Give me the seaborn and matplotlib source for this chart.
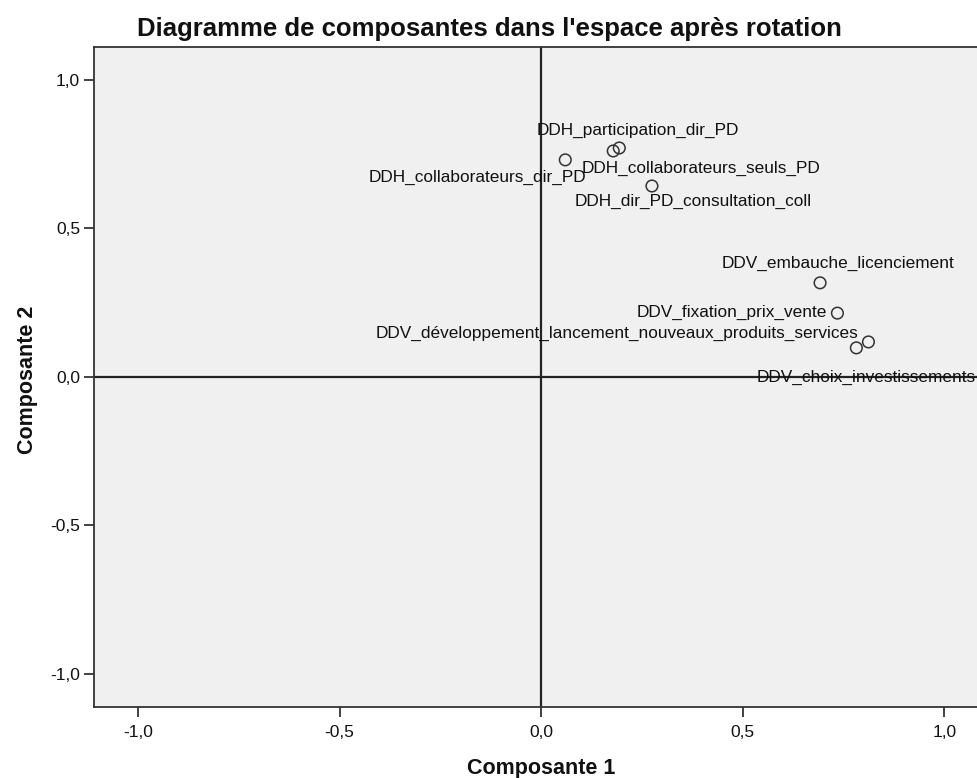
import numpy as np
import pandas as pd
import matplotlib
matplotlib.use("Agg")
import matplotlib.pyplot as plt
import seaborn as sns

# component loadings
variables = ["DDH_participation_dir_PD", "DDH_collaborateurs_seuls_PD",
             "DDH_collaborateurs_dir_PD", "DDH_dir_PD_consultation_coll",
             "DDV_embauche_licenciement", "DDV_fixation_prix_vente",
             "DDV_développement_lancement_nouveaux_produits_services",
             "DDV_choix_investissements"]
comp1 = [0.194, 0.179, 0.060, 0.275, 0.692, 0.735, 0.812, 0.782]
comp2 = [0.771, 0.761, 0.731, 0.643, 0.317, 0.215, 0.118, 0.098]
ticks = [-1.0, -0.5, 0.0, 0.5, 1.0]
tick_labels = ["-1,0", "-0,5", "0,0", "0,5", "1,0"]

# where each label sits relative to its point (pixels)
label_offsets = [(19, 18), (88, -17), (-88, -18), (41, -15),
                 (18, 19), (-106, 1), (-251, 9), (10, -30)]

df = pd.DataFrame({"Composante 1": comp1, "Composante 2": comp2, "var": variables})

plt.rcParams["font.family"] = ["Liberation Sans", "DejaVu Sans"]

fig = plt.figure(figsize=(9.78, 7.78), dpi=100)
ax = fig.add_axes([0.0961, 0.0913, 0.904, 0.8483])
ax.set_facecolor("#f0f0f0")

ax.axvline(0, color="#222222", lw=1.6, zorder=1)
ax.axhline(0, color="#222222", lw=1.6, zorder=1)

sns.scatterplot(data=df, x="Composante 1", y="Composante 2", ax=ax,
                marker="o", s=70, facecolor="none", edgecolor="#333333",
                linewidth=1.1, zorder=3)

for name, x, y, off in zip(variables, comp1, comp2, label_offsets):
    ax.annotate(name, (x, y), xytext=off, textcoords="offset pixels",
                ha="center", va="center", fontsize=12.4, color="#111111",
                zorder=4)

ax.set_xlim(-1.109, 1.084)
ax.set_ylim(-1.111, 1.111)
ax.set_xticks(ticks)
ax.set_xticklabels(tick_labels)
ax.set_yticks(ticks)
ax.set_yticklabels(tick_labels)
ax.tick_params(axis="x", length=7, width=1.3, color="#333333", labelsize=12.5,
               pad=6, labelcolor="#111111")
ax.tick_params(axis="y", length=7, width=1.3, color="#333333", labelsize=12.5,
               pad=3, labelcolor="#111111")

for side in ["left", "bottom", "top"]:
    ax.spines[side].set_color("#333333")
    ax.spines[side].set_linewidth(1.3)
ax.spines["right"].set_visible(False)

ax.set_xlabel("Composante 1", fontsize=15.5, fontweight="bold", color="#111111")
ax.xaxis.set_label_coords(0.5057, -0.077)
ax.set_ylabel("Composante 2", fontsize=15.5, fontweight="bold", color="#111111")
ax.yaxis.set_label_coords(-0.063, 0.495)

fig.text(0.5, 0.9537, "Diagramme de composantes dans l'espace après rotation",
         ha="center", va="baseline", fontsize=18.5, fontweight="bold",
         color="#111111")

fig.savefig("out.png", dpi=100)
